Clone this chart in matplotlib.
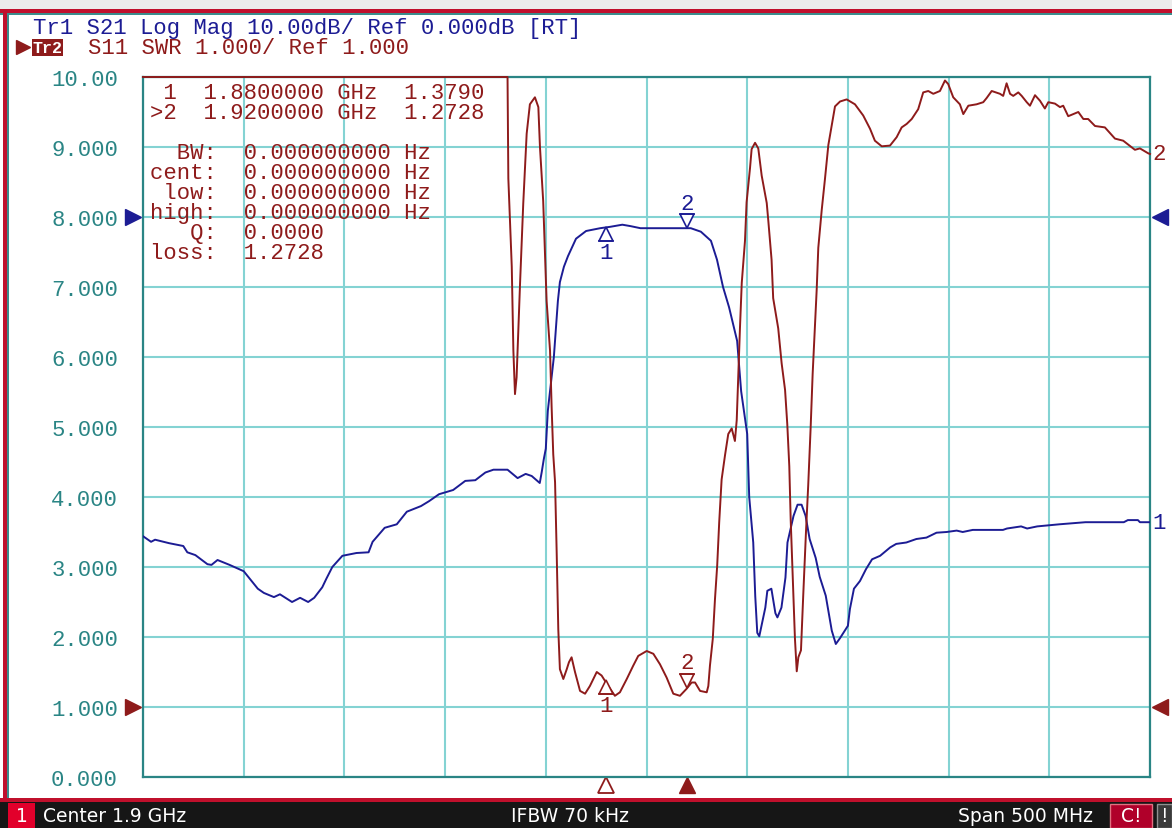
import numpy as np
import matplotlib
matplotlib.use("Agg")
import matplotlib.pyplot as plt
from matplotlib.patches import Rectangle
from matplotlib.transforms import offset_copy

# S21 trace (Tr1), log mag in dB, 10 dB/div, ref 0 dB at division 8
s21_freq = [1.650, 1.654, 1.656, 1.663, 1.670, 1.672, 1.676, 1.682, 1.684, 1.687,
            1.693, 1.700, 1.707, 1.710, 1.715, 1.718, 1.724, 1.728, 1.732, 1.735,
            1.739, 1.741, 1.744, 1.749, 1.756, 1.762, 1.764, 1.770, 1.776, 1.781,
            1.788, 1.792, 1.797, 1.804, 1.810, 1.815, 1.820, 1.824, 1.831, 1.836,
            1.840, 1.843, 1.847, 1.848, 1.849, 1.850, 1.851, 1.854, 1.856, 1.857,
            1.859, 1.861, 1.865, 1.870, 1.877, 1.882, 1.888, 1.892, 1.897, 1.918,
            1.922, 1.927, 1.932, 1.935, 1.938, 1.941, 1.945, 1.947, 1.950, 1.951,
            1.953, 1.954, 1.955, 1.956, 1.959, 1.960, 1.962, 1.964, 1.965, 1.967,
            1.969, 1.970, 1.973, 1.975, 1.977, 1.979, 1.981, 1.984, 1.986, 1.989,
            1.992, 1.994, 1.996, 2.000, 2.001, 2.003, 2.006, 2.009, 2.012, 2.016,
            2.021, 2.024, 2.029, 2.034, 2.039, 2.044, 2.049, 2.054, 2.057, 2.062,
            2.077, 2.079, 2.086, 2.089, 2.094, 2.105, 2.118, 2.137, 2.139, 2.144,
            2.145, 2.150]
s21_db = [-45.6, -46.4, -46.1, -46.6, -47.0, -47.9, -48.3, -49.6, -49.7, -49.0,
          -49.7, -50.6, -53.1, -53.7, -54.3, -53.9, -55.0, -54.4, -55.0, -54.4,
          -52.9, -51.7, -50.0, -48.4, -48.0, -47.9, -46.4, -44.4, -43.9, -42.1,
          -41.3, -40.6, -39.6, -39.0, -37.7, -37.6, -36.5, -36.1, -36.1, -37.3,
          -36.7, -37.0, -38.0, -36.4, -34.6, -33.1, -27.7, -20.0, -12.0, -9.3,
          -7.1, -5.6, -3.1, -2.0, -1.6, -1.4, -1.1, -1.3, -1.6, -1.6,
          -1.6, -2.1, -3.4, -6.1, -10.0, -12.9, -17.7, -24.9, -31.0, -40.0,
          -46.5, -54.2, -59.4, -59.9, -55.8, -53.4, -53.1, -56.6, -57.2, -55.8,
          -51.5, -46.5, -42.7, -41.1, -41.1, -42.7, -46.0, -48.7, -51.4, -54.1,
          -59.1, -61.0, -60.2, -58.4, -56.0, -53.1, -52.0, -50.3, -48.9, -48.4,
          -47.2, -46.7, -46.5, -46.0, -45.8, -45.1, -45.0, -44.8, -45.0, -44.7,
          -44.7, -44.5, -44.2, -44.5, -44.2, -43.9, -43.6, -43.6, -43.3, -43.3,
          -43.6, -43.6]

# S11 trace (Tr2), SWR, 1.000/div, ref 1.000 at division 1 (clipped at 10)
s11_freq = [1.6500, 1.8310, 1.8314, 1.8331, 1.8339, 1.8347, 1.8355, 1.8372, 1.8388, 1.8405,
            1.8421, 1.8446, 1.8463, 1.8471, 1.8487, 1.8496, 1.8504, 1.8521, 1.8529, 1.8537,
            1.8546, 1.8554, 1.8562, 1.8570, 1.8587, 1.8604, 1.8615, 1.8628, 1.8645, 1.8670,
            1.8695, 1.8719, 1.8753, 1.8777, 1.8810, 1.8843, 1.8868, 1.8902, 1.8934, 1.8959,
            1.9001, 1.9034, 1.9067, 1.9100, 1.9133, 1.9166, 1.9199, 1.9224, 1.9241, 1.9266,
            1.9299, 1.9307, 1.9315, 1.9329, 1.9340, 1.9351, 1.9361, 1.9373, 1.9390, 1.9406,
            1.9423, 1.9439, 1.9448, 1.9456, 1.9464, 1.9473, 1.9489, 1.9497, 1.9514, 1.9522,
            1.9539, 1.9555, 1.9572, 1.9597, 1.9605, 1.9621, 1.9629, 1.9654, 1.9671, 1.9688,
            1.9699, 1.9709, 1.9716, 1.9726, 1.9737, 1.9746, 1.9754, 1.9767, 1.9778, 1.9792,
            1.9803, 1.9815, 1.9825, 1.9836, 1.9845, 1.9853, 1.9870, 1.9886, 1.9903, 1.9919,
            1.9936, 1.9961, 1.9994, 2.0035, 2.0076, 2.0110, 2.0134, 2.0168, 2.0209, 2.0242,
            2.0267, 2.0292, 2.0317, 2.0349, 2.0374, 2.0399, 2.0424, 2.0457, 2.0482, 2.0498,
            2.0523, 2.0556, 2.0573, 2.0598, 2.0639, 2.0672, 2.0689, 2.0714, 2.0755, 2.0771,
            2.0788, 2.0805, 2.0821, 2.0846, 2.0863, 2.0888, 2.0904, 2.0929, 2.0954, 2.0978,
            2.0995, 2.1028, 2.1053, 2.1069, 2.1094, 2.1119, 2.1144, 2.1169, 2.1193, 2.1227,
            2.1276, 2.1326, 2.1367, 2.1425, 2.1450, 2.1491, 2.1500]
s11_swr = [10.0, 10.0, 8.55, 7.29, 6.09, 5.47, 5.71, 7.04, 8.19, 9.19,
           9.61, 9.71, 9.57, 9.00, 8.23, 7.47, 6.80, 6.09, 5.28, 4.61,
           4.21, 3.21, 2.11, 1.54, 1.40, 1.54, 1.64, 1.71, 1.50, 1.23,
           1.19, 1.30, 1.50, 1.45, 1.30, 1.16, 1.21, 1.40, 1.59, 1.73,
           1.80, 1.76, 1.61, 1.42, 1.19, 1.16, 1.26, 1.35, 1.35, 1.23,
           1.21, 1.30, 1.59, 1.97, 2.54, 3.02, 3.64, 4.25, 4.60, 4.90,
           4.98, 4.80, 5.10, 5.76, 6.41, 7.06, 7.66, 8.21, 8.70, 8.97,
           9.06, 8.98, 8.59, 8.20, 7.94, 7.39, 6.84, 6.41, 5.91, 5.53,
           5.04, 4.44, 3.67, 2.86, 1.98, 1.51, 1.71, 1.81, 2.58, 3.51,
           4.17, 4.99, 5.76, 6.41, 6.96, 7.56, 8.10, 8.54, 9.03, 9.30,
           9.58, 9.65, 9.68, 9.61, 9.45, 9.26, 9.09, 9.01, 9.02, 9.14,
           9.28, 9.33, 9.40, 9.54, 9.78, 9.80, 9.76, 9.80, 9.95, 9.90,
           9.71, 9.61, 9.47, 9.59, 9.61, 9.64, 9.70, 9.80, 9.76, 9.73,
           9.91, 9.76, 9.73, 9.78, 9.73, 9.64, 9.59, 9.74, 9.66, 9.55,
           9.64, 9.62, 9.57, 9.59, 9.44, 9.47, 9.50, 9.40, 9.40, 9.30,
           9.28, 9.12, 9.09, 8.96, 8.98, 8.91, 8.90]

marker_freq = [1.88, 1.92]
marker_swr = [1.3790, 1.2728]

y_labels = ["0.000", "1.000", "2.000", "3.000", "4.000", "5.000",
            "6.000", "7.000", "8.000", "9.000", "10.00"]

readout = [" 1  1.8800000 GHz  1.3790",
           ">2  1.9200000 GHz  1.2728",
           "",
           "  BW:  0.000000000 Hz",
           "cent:  0.000000000 Hz",
           " low:  0.000000000 Hz",
           "high:  0.000000000 Hz",
           "   Q:  0.0000",
           "loss:  1.2728"]

BLUE = "#1c1c94"
RED = "#8e1b1b"
GRID = "#84d3d3"
TEAL = "#2a8585"
MONO = "Liberation Mono"
FS = 16
SFS = 13.5

W, H = 1172, 829
fig = plt.figure(figsize=(W / 100, H / 100), dpi=100)

# screen decoration drawn in pixel coordinates
bg = fig.add_axes([0, 0, 1, 1])
bg.set_xlim(0, W)
bg.set_ylim(H, 0)
bg.axis("off")


def box(x0, y0, x1, y1, color, ec="none"):
    bg.add_patch(Rectangle((x0, y0), x1 - x0, y1 - y0, facecolor=color,
                           edgecolor=ec, lw=1))


box(0, 0, W, 10, "#ececec")
box(0, 10, W, 14, "#c0102c")
box(0, 14, W, 16, "#3b8c8c")
box(3, 10, 7, H, "#c0102c")
box(7, 16, 9, 800, "#3b8c8c")
box(0, 799, W, 803, "#c0102c")
box(0, 803, W, H, "#161616")

# header
bg.text(33, 28, "Tr1 S21 Log Mag 10.00dB/ Ref 0.000dB [RT]", family=MONO,
        size=FS, color=BLUE, va="center")
bg.plot(23, 48, marker=">", ms=10, color=RED)
box(32, 40, 63, 57, RED)
bg.text(47.5, 48.5, "Tr2", family=MONO, size=12, weight="bold", color="white",
        ha="center", va="center")
bg.text(88, 48, "S11 SWR 1.000/ Ref 1.000", family=MONO, size=FS, color=RED,
        va="center")

# status bar
box(8, 804, 35, H, "#e2002b")
bg.text(21.5, 817, "1", color="white", size=SFS, ha="center", va="center")
bg.text(43, 817, "Center 1.9 GHz", color="white", size=SFS, va="center")
bg.text(570, 817, "IFBW 70 kHz", color="white", size=SFS, ha="center", va="center")
bg.text(1093, 817, "Span 500 MHz", color="white", size=SFS, ha="right", va="center")
box(1110, 805, 1152, H, "#b0002a", ec="#e07080")
bg.text(1131, 817, "C!", color="white", size=SFS, ha="center", va="center")
box(1157, 805, W, H, "#3a3a3a", ec="#909090")
bg.text(1164, 817, "!", color="white", size=SFS, ha="center", va="center")

# grid area
ax = fig.add_axes([143 / W, (H - 778) / H, 1007 / W, 700 / H])
ax.set_facecolor("white")
ax.set_xlim(1.65, 2.15)
ax.set_ylim(0, 10)
ax.set_xticks(np.linspace(1.65, 2.15, 11))
ax.set_xticklabels([])
ax.set_yticks(range(11))
ax.set_yticklabels(y_labels, family=MONO, size=FS, color=TEAL)
ax.tick_params(length=0, pad=18)
ax.grid(True, color=GRID, lw=1.5)
ax.set_axisbelow(True)
for sp in ax.spines.values():
    sp.set_color(TEAL)
    sp.set_linewidth(1.6)

s21_disp = 8 + np.array(s21_db) / 10.0
ax.plot(s21_freq, s21_disp, color=BLUE, lw=1.4, zorder=3)
ax.plot(s11_freq, np.clip(s11_swr, 0, 10), color=RED, lw=1.4, zorder=4, clip_on=False)

# trace end labels
ax.text(1.0025, s21_disp[-1], "1", transform=ax.get_yaxis_transform(),
        family=MONO, size=FS, color=BLUE, va="center")
ax.text(1.0025, s11_swr[-1], "2", transform=ax.get_yaxis_transform(),
        family=MONO, size=FS, color=RED, va="center")

# reference level arrows
yt = ax.get_yaxis_transform()
for xa, m in [(-0.0095, ">"), (1.0095, "<")]:
    ax.plot(xa, 8, marker=m, ms=12, color=BLUE, transform=yt, clip_on=False)
    ax.plot(xa, 1, marker=m, ms=12, color=RED, transform=yt, clip_on=False)

# stimulus markers below the grid
xt = ax.get_xaxis_transform()
ax.plot(marker_freq[0], -0.012, marker="^", ms=11, mfc="white", mec=RED, mew=1.3,
        transform=xt, clip_on=False)
ax.plot(marker_freq[1], -0.012, marker="^", ms=11, color=RED,
        transform=xt, clip_on=False)


def trace_marker(x, y, color, label, above):
    ms = 10
    sgn = 1 if above else -1
    tri = offset_copy(ax.transData, fig=fig, x=0, y=sgn * ms / 2, units="points")
    bar = offset_copy(ax.transData, fig=fig, x=0, y=sgn * ms, units="points")
    lab = offset_copy(ax.transData, fig=fig, x=0, y=sgn * (ms + 8), units="points")
    ax.plot(x, y, marker="v" if above else "^", ms=ms, mfc="white", mec=color,
            mew=1.2, transform=tri, zorder=6)
    ax.plot(x, y, marker="_", ms=12, mec=color, mew=1.2, transform=bar, zorder=6)
    ax.text(x, y, label, transform=lab, family=MONO, size=FS, color=color,
            ha="center", va="center", zorder=6)


for i, f in enumerate(marker_freq):
    yb = 8 + np.interp(f, s21_freq, s21_db) / 10.0
    trace_marker(f, yb, BLUE, str(i + 1), above=(i == 1))
    trace_marker(f, marker_swr[i], RED, str(i + 1), above=(i == 1))

# marker readout
for k, line in enumerate(readout):
    if line:
        ax.text(150, 93 + 20 * k if k < 2 else 113 + 20 * (k - 1), line,
                transform=bg.transData, family=MONO, size=FS, color=RED,
                va="center", zorder=7)

fig.savefig("out.png", dpi=100)
